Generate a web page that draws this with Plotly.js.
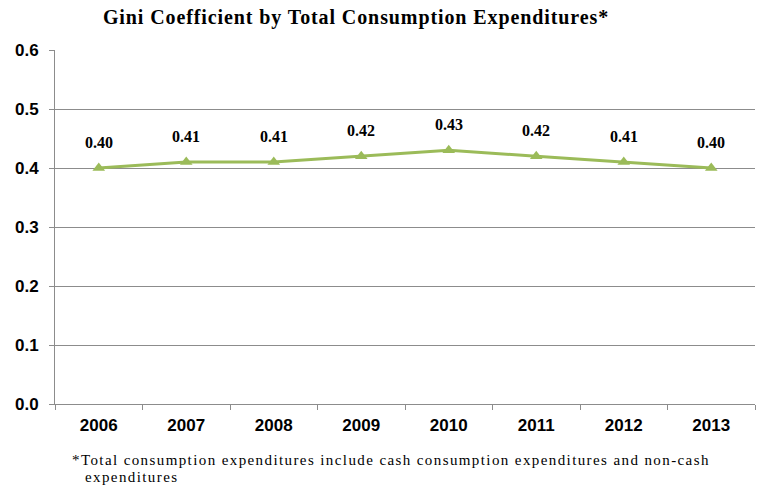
<!DOCTYPE html>
<html>
<head>
<meta charset="utf-8">
<script src="https://cdn.plot.ly/plotly-3.0.1.min.js"></script>
<style>
html,body{margin:0;padding:0;background:#fff;}
#chart{width:758px;height:489px;}
.gtitle{letter-spacing:0.9px;}
</style>
</head>
<body>
<div id="chart"></div>
<script>
const years = ["2006","2007","2008","2009","2010","2011","2012","2013"];
const gini = [0.40, 0.41, 0.41, 0.42, 0.43, 0.42, 0.41, 0.40];
const yTicks = [0, 0.1, 0.2, 0.3, 0.4, 0.5, 0.6];
const yTickLabels = ["0.0","0.1","0.2","0.3","0.4","0.5","0.6"];
const footLine1 = '*Total consumption expenditures include cash consumption expenditures and non-cash';
const footLine2 = 'expenditures';

const trace = {
  x: years, y: gini, type: 'scatter', mode: 'lines+markers',
  line: {color: '#9bbb59', width: 3},
  marker: {symbol: 'triangle-up', size: 11, color: '#9bbb59'},
  hoverinfo: 'skip'
};

const labelAnns = years.map((yr, i) => ({
  x: i, y: gini[i], xref: 'x', yref: 'y',
  text: '<b>' + gini[i].toFixed(2) + '</b>',
  showarrow: false, yshift: 26, xanchor: 'center', yanchor: 'middle',
  font: {family: 'Liberation Serif, Times New Roman', size: 16, color: '#000'}
}));

const layout = {
  width: 758, height: 489,
  margin: {l: 55, r: 3, t: 50, b: 85},
  paper_bgcolor: '#fff', plot_bgcolor: '#fff',
  showlegend: false,
  title: {
    text: '<b>Gini Coefficient by Total Consumption Expenditures*</b>',
    xref: 'container', x: 356/758, xanchor: 'center',
    yref: 'container', y: 1 - 17/489, yanchor: 'middle',
    font: {family: 'Liberation Serif, Times New Roman', size: 20, color: '#000'}
  },
  xaxis: {
    type: 'category',
    showgrid: false, zeroline: false,
    showline: true, linecolor: '#8c8c8c', linewidth: 1,
    ticks: 'outside', tickson: 'boundaries', ticklen: 5, tickcolor: '#8c8c8c',
    ticklabelstandoff: 6,
    tickfont: {family: 'Liberation Sans, Arial', size: 17, color: '#000', weight: 'bold'},
    range: [-0.5, 7.5]
  },
  yaxis: {
    range: [0, 0.6], tickvals: yTicks, ticktext: yTickLabels,
    showgrid: true, gridcolor: '#8c8c8c', gridwidth: 1,
    zeroline: false,
    showline: true, linecolor: '#8c8c8c', linewidth: 1,
    ticks: 'outside', ticklen: 5, tickcolor: '#8c8c8c',
    ticklabelstandoff: 7,
    tickfont: {family: 'Liberation Sans, Arial', size: 17, color: '#000', weight: 'bold'}
  },
  annotations: labelAnns.concat([
    {xref: 'paper', yref: 'paper', x: (70-55)/700, y: (489-85-468)/404, xanchor: 'left', yanchor: 'middle',
     showarrow: false, align: 'left', text: footLine1,
     font: {family: 'Liberation Serif, Times New Roman', size: 15, color: '#000'}},
    {xref: 'paper', yref: 'paper', x: (83-55)/700, y: (489-85-487)/404, xanchor: 'left', yanchor: 'middle',
     showarrow: false, align: 'left', text: footLine2,
     font: {family: 'Liberation Serif, Times New Roman', size: 15, color: '#000'}}
  ])
};

Plotly.newPlot('chart', [trace], layout, {displayModeBar: false, staticPlot: true}).then(function(gd){
  var n = labelAnns.length;
  document.querySelectorAll('.annotation').forEach(function(el){
    var idx = +el.getAttribute('data-index');
    if (idx >= n) { el.querySelectorAll('text').forEach(function(t){ t.style.letterSpacing = '1.4px'; }); }
  });
});
</script>
</body>
</html>
